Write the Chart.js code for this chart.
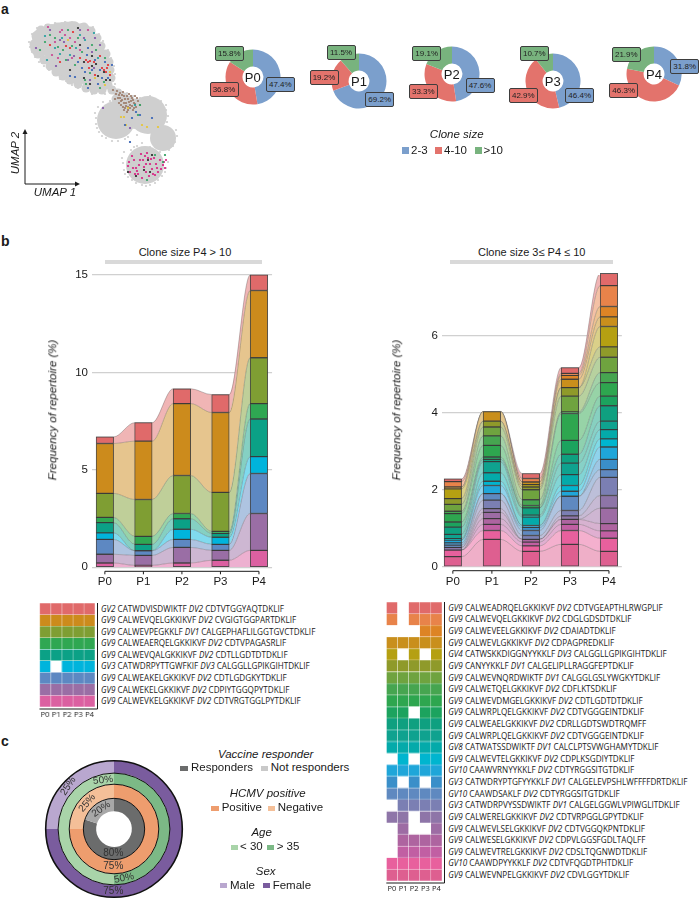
<!DOCTYPE html>
<html>
<head>
<meta charset="utf-8">
<script src="https://cdn.jsdelivr.net/npm/chart.js@4"></script>
<style>
	html, body { margin: 0; padding: 0; background: #fff; }
	#page { position: relative; width: 700px; height: 899px; overflow: hidden; font-family: "Liberation Sans", sans-serif; color: #1a1a1a; }
	#page canvas { position: absolute; }
	.txt { position: absolute; white-space: nowrap; line-height: 1; }
	.seq { position: absolute; white-space: nowrap; line-height: 1; font-family: "Open Sans", sans-serif; font-size: 8.15px; color: #1a1a1a; }
	.tag { position: absolute; box-sizing: border-box; width: 29px; height: 15px; border: 1px solid #3d3d3d; border-radius: 2px; font-size: 8px; line-height: 13px; text-align: center; color: #222; }
	.sw { position: absolute; }
</style>
</head>
<body>
<div id="page"></div>
<script>
// ---- panel a: UMAP (positions)
const umapLobes = [[116,120],[148,115],[145,165]];
const umapSmallLobes = [[163,138]];
const umapCore = [[42,38],[52,34],[62,32],[72,31],[82,33],[40,47],[48,46],[58,44],[68,42],[78,42],[88,42],[55,56],[65,54],[75,52],[85,52],[95,52],[62,66],[72,64],[82,62],[92,62],[100,62],[76,74],[84,74],[94,74],[102,74],[92,80],[100,82]];
const umapEdge = [[34,44],[36,36],[41,30],[48,28],[57,27],[66,26],[75,26],[84,27],[91,31],[97,38],[101,46],[106,54],[109,62],[110,70],[111,78],[108,85],[38,54],[44,60],[50,66],[56,72],[63,76],[70,80],[78,84],[86,88],[94,90],[102,90],[112,90],[118,93],[124,97],[130,100],[136,103],[116,99],[122,104],[128,107]];
const umapFringe = [[30,47],[32,52],[35,57],[39,62],[44,66],[49,70],[54,74],[60,79],[66,81],[72,85],[78,88],[86,91],[92,94],[29,42],[32,34],[37,28],[46,25],[55,23],[65,22],[75,23],[85,24],[93,27],[99,34],[103,41],[108,50],[111,58],[114,66],[115,74],[115,84],[110,92],[105,94],[114,87],[120,90],[127,93],[133,96],[140,101],[96,124],[95,113],[98,107],[103,102],[99,132],[106,138],[118,141],[128,137],[135,120],[166,105],[167,122],[161,101],[150,96],[140,98],[177,136],[176,130],[173,146],[160,152],[150,147],[130,142],[124,152],[123,163],[125,174],[132,180],[142,185],[150,185],[158,180],[165,172],[165,155],[134,147],[96,118],[97,128],[102,136],[112,141],[125,139],[166,110],[168,116],[175,142],[169,150],[122,158],[124,170],[128,177],[136,183],[146,186],[155,183],[162,176],[166,168],[168,162],[110,101],[134,128],[137,135],[131,150],[137,146],[142,143]];
const umapBrown = [[113,90],[116,94],[118,98],[120,93],[122,100],[124,96],[126,103],[128,99],[130,105],[132,98],[134,103],[136,107],[125,108],[121,105],[129,94],[133,110],[127,112],[138,101],[140,105],[119,103],[115,99],[123,92],[131,101],[135,96],[128,107],[124,103],[117,91],[120,98],[122,95],[125,99],[127,96],[129,102],[131,96],[133,100],[135,104],[137,98],[126,106],[123,107],[130,108],[119,95],[128,110],[132,106],[134,108],[121,101],[124,110]];
const umapPink = [[128,166],[130,172],[134,160],[136,168],[138,174],[141,154],[143,160],[144,167],[146,172],[148,158],[150,164],[152,169],[154,158],[156,164],[158,172],[160,160],[163,165],[165,168],[147,153],[139,165],[132,156],[155,175],[149,176],[142,178],[166,160],[129,162],[133,168],[137,171],[140,160],[145,156],[151,159],[153,174],[157,168],[161,169],[164,162],[146,164],[135,174]];
const umapRed = [[86,60],[90,61],[94,62],[50,45],[70,48],[102,68],[106,72],[110,75],[89,68],[108,65],[60,62],[95,75],[73,32],[80,58],[100,56],[104,70],[107,68],[88,62],[66,46]];
const umapGreen = [[45,42],[55,38],[68,30],[78,38],[63,50],[75,65],[85,80],[40,50],[92,45],[105,58],[100,88],[140,105],[138,115],[155,155],[163,162],[86,84],[72,46],[147,180],[165,155],[50,35],[58,47],[66,60],[90,73],[96,50],[104,82],[82,52]];
const umapBlue = [[88,48],[82,68],[95,60],[105,62],[75,77],[85,72],[70,76],[112,65],[100,70],[125,125],[132,118],[140,115],[152,118],[88,88],[130,142],[136,112],[98,84],[92,70],[78,62],[102,78],[87,55],[108,78]];
const umapPurple = [[36,48],[50,30],[60,40],[68,60],[80,30],[92,52],[100,45],[56,66],[95,38],[103,108],[130,128],[90,80],[64,42],[74,56],[84,38],[94,68]];
const umapMagenta = [[48,27],[60,32],[65,35],[75,42],[52,55],[88,30],[58,58],[72,58],[80,50],[62,30],[55,42],[70,38]];
const umapBlack = [[78,28],[84,62],[92,66],[104,72],[98,76],[110,80],[80,45],[70,70],[92,56],[148,160],[144,170],[152,155],[128,172],[90,84],[96,64],[106,80],[84,78],[136,176],[150,172]];
const umapYellow = [[68,40],[110,72],[121,117],[126,125],[142,125],[158,127],[128,108],[95,78],[105,85],[124,117],[147,127]];
const umapTeal = [[45,36],[55,48],[62,38],[70,55],[80,35],[94,33],[47,60],[85,40],[135,105],[76,48],[60,54],[98,58]];
const umapDots = [
	[umapGreen, "#2ca25f"], [umapBlue, "#2f5db5"], [umapPurple, "#7d4ea6"], [umapTeal, "#1b9e9e"],
	[umapMagenta, "#c9408f"], [umapRed, "#e5262b"], [umapYellow, "#e8c52c"], [umapBlack, "#222222"],
	[umapBrown, "#9a7866"], [umapPink, "#d81b7f"],
];

// ---- panel a: clone size shares per patient
const patients = ["P0", "P1", "P2", "P3", "P4"];
const cloneSmall = [47.4, 69.2, 47.6, 46.4, 31.8];
const cloneMid = [36.8, 19.2, 33.3, 42.9, 46.3];
const cloneLarge = [15.8, 11.5, 19.1, 10.7, 21.9];
const donutColors = ["#7b9fcc", "#e3736c", "#78b37e"];

// ---- panel b: clone size P4 > 10 (frequency per patient, top row first)
const leftRed = [0.34, 0.95, 0.76, 0.92, 0.80];
const leftOrange = [2.56, 2.99, 3.69, 4.10, 3.45];
const leftOlive = [1.23, 1.89, 1.95, 2.00, 2.35];
const leftGreen = [0.27, 0.41, 0.27, 0.10, 0.79];
const leftTeal = [0.52, 0.33, 0.54, 0.20, 1.93];
const leftCyan = [0.34, 0, 0.52, 0.36, 0.87];
const leftBlue = [0.76, 0.24, 0.41, 0.31, 2.05];
const leftPurple = [0.45, 0.51, 0.80, 0.51, 1.89];
const leftPink = [0.22, 0.10, 0.22, 0.36, 0.87];
const leftRows = [leftRed, leftOrange, leftOlive, leftGreen, leftTeal, leftCyan, leftBlue, leftPurple, leftPink];
const leftColors = ["#e06a6a", "#cc8b1c", "#7f9e33", "#2fa752", "#0ba186", "#00b4dc", "#5d88c2", "#9a6ea5", "#db60a1"];
const leftSeqs = [
	["GV2", "CATWDVISDWIKTF", "DV2", "CDTVTGGYAQTDKLIF"],
	["GV9", "CALWEVQELGKKIKVF", "DV2", "CVGIGTGGPARTDKLIF"],
	["GV9", "CALWEVPEGKKLF", "DV1", "CALGEPHAFLILGGTGVCTDKLIF"],
	["GV9", "CALWEAERQELGKKIKVF", "DV2", "CDTVPAGASRLIF"],
	["GV9", "CALWEVQALGKKIKVF", "DV2", "CDTLLGDTDTDKLIF"],
	["GV3", "CATWDRPYTTGWFKIF", "DV3", "CALGGLLGPIKGIHTDKLIF"],
	["GV9", "CALWEAKELGKKIKVF", "DV2", "CDTLGDGKYTDKLIF"],
	["GV9", "CALWEKELGKKIKVF", "DV2", "CDPIYTGGQPYTDKLIF"],
	["GV9", "CALWEVKELGKKIKVF", "DV2", "CDTVRGTGGLPYTDKLIF"],
];

// ---- panel b: clone size 3 <= P4 <= 10 (frequency per patient, top row first)
const rightRows = [
	[0.07, 0, 0.13, 0.15, 0.32],
	[0.14, 0, 0.09, 0.05, 0.54],
	[0, 0, 0, 0.10, 0.27],
	[0.05, 0.25, 0.07, 0.22, 0.25],
	[0.25, 0, 0.06, 0, 0.53],
	[0.15, 0.15, 0.07, 0.22, 0.27],
	[0.18, 0.23, 0.26, 0.41, 0.40],
	[0.06, 0.25, 0.15, 0.04, 0.26],
	[0.22, 0.30, 0.06, 0.70, 0.35],
	[0.13, 0.06, 0, 0.36, 0.25],
	[0.19, 0.06, 0.19, 0.23, 0.40],
	[0.11, 0.29, 0.05, 0.30, 0.22],
	[0.04, 0.22, 0.22, 0.28, 0.24],
	[0, 0.11, 0, 0.15, 0.21],
	[0.07, 0.21, 0.05, 0.13, 0.32],
	[0.06, 0, 0.08, 0, 0.27],
	[0.06, 0.17, 0.13, 0.37, 0.20],
	[0, 0.22, 0.10, 0.14, 0.47],
	[0.07, 0.10, 0, 0.09, 0.33],
	[0, 0.16, 0, 0, 0.40],
	[0, 0.15, 0.07, 0.13, 0.19],
	[0, 0.16, 0.10, 0.16, 0.19],
	[0.17, 0.23, 0.14, 0.36, 0.34],
	[0.26, 0.71, 0.40, 0.58, 0.40],
];
const rightColors = ["#e06a6a", "#e8834a", "#dd8425", "#c98f1c", "#b5a012", "#8f9a2a", "#6fa33f", "#46a550", "#2ea64f", "#1ca35e", "#0fa080", "#0fa28f", "#04aaaa", "#00b5cf", "#1fa6d9", "#3a8fc9", "#5f89c0", "#7b7fb3", "#8e75a8", "#9d6ca4", "#ae64a0", "#c15fa3", "#e8609d", "#de5f90"];
const rightSeqs = [
	["GV9", "CALWEADRQELGKKIKVF", "DV2", "CDTVGEAPTHLRWGPLIF"],
	["GV9", "CALWEVQELGKKIKVF", "DV2", "CDGLGDSDTDKLIF"],
	["GV9", "CALWEVEELGKKIKVF", "DV2", "CDAIADTDKLIF"],
	["GV9", "CALWEVLGKKIKVF", "DV2", "CDPAGPREDKLIF"],
	["GV4", "CATWSKKDIGGNYYKKLF", "DV3", "CALGGLLGPIKGIHTDKLIF"],
	["GV9", "CANYYKKLF", "DV1", "CALGELIPLLRAGGFEPTDKLIF"],
	["GV9", "CALWEVNQRDWIKTF", "DV1", "CALGGLGSLYWGKYTDKLIF"],
	["GV9", "CALWETQELGKKIKVF", "DV2", "CDFLKTSDKLIF"],
	["GV9", "CALWEVDMGELGKKIKVF", "DV2", "CDTLGDTDTDKLIF"],
	["GV9", "CALWRPLQELGKKIKVF", "DV2", "CDTVGGGEINTDKLIF"],
	["GV9", "CALWEAELGKKIKVF", "DV2", "CDRLLGDTSWDTRQMFF"],
	["GV9", "CALWRPLQELGKKIKVF", "DV2", "CDTVGGGEINTDKLIF"],
	["GV8", "CATWATSSDWIKTF", "DV1", "CALCLPTSVWGHAMYTDKLIF"],
	["GV9", "CALWEVTELGKKIKVF", "DV2", "CDPLKSGDIYTDKLIF"],
	["GV10", "CAAWVRNYYKKLF", "DV2", "CDTYRGGSITGTDKLIF"],
	["GV3", "CATWDRYPTGFYYKKLF", "DV1", "CALGELEVPSHLWFFFFDRTDKLIF"],
	["GV10", "CAAWDSAKLF", "DV2", "CDTYRGGSITGTDKLIF"],
	["GV3", "CATWDRPVYSSDWIKTF", "DV1", "CALGELGGWLVPIWGLITDKLIF"],
	["GV9", "CALWERELGKKIKVF", "DV2", "CDTVRPGGLGPYTDKLIF"],
	["GV9", "CALWEVLSELGKKIKVF", "DV2", "CDTVGGQKPNTDKLIF"],
	["GV9", "CALWESELGKKIKVF", "DV2", "CDPVLGGSFGDLTAQLFF"],
	["GV9", "CALWEVTRELGKKIKVF", "DV2", "CDSLTQGNWDTDKLIF"],
	["GV10", "CAAWDPYYKKLF", "DV2", "CDTVFQGDTPHTDKLIF"],
	["GV9", "CALWEVNPELGKKIKVF", "DV2", "CDVLGGYTDKLIF"],
];

// ---- panel c: cohort rings
const sexShare = [75, 25];
const ageShare = [50, 50];
const hcmvShare = [75, 25];
const responderShare = [80, 20];

const page = document.getElementById("page");
Chart.defaults.font.family = '"Liberation Sans", sans-serif';
Chart.defaults.color = "#1a1a1a";
Chart.defaults.animation = false;
Chart.defaults.responsive = false;
Chart.defaults.plugins.legend.display = false;
Chart.defaults.plugins.tooltip.enabled = false;

function addCanvas(left, top, width, height) {
	const canvas = document.createElement("canvas");
	canvas.width = width;
	canvas.height = height;
	canvas.style.left = left + "px";
	canvas.style.top = top + "px";
	canvas.style.width = width + "px";
	canvas.style.height = height + "px";
	page.appendChild(canvas);
	return canvas;
}

// centred text by default
function addText(x, y, text, size, opts = {}) {
	const el = document.createElement("div");
	el.className = "txt";
	el.textContent = text;
	el.style.left = x + "px";
	el.style.top = y + "px";
	el.style.fontSize = size + "px";
	if (opts.italic) el.style.fontStyle = "italic";
	if (opts.bold) el.style.fontWeight = "bold";
	if (opts.color) el.style.color = opts.color;
	const ax = opts.start ? "0" : "-50%";
	el.style.transform = `translate(${ax}, -50%) rotate(${opts.rotate || 0}deg)`;
	page.appendChild(el);
	return el;
}

function addSwatch(x, y, w, h, color) {
	const el = document.createElement("div");
	el.className = "sw";
	el.style.cssText = `left:${x}px;top:${y}px;width:${w}px;height:${h}px;background:${color}`;
	page.appendChild(el);
}

// opaque ribbon tint, so gridlines stay behind the ribbons
function tint(hex) {
	const n = parseInt(hex.slice(1), 16);
	const mix = (c) => Math.round(c * 0.5 + 255 * 0.5);
	return `rgb(${mix(n >> 16)},${mix((n >> 8) & 255)},${mix(n & 255)})`;
}

// ---------------- panel a
addText(1, 9, "a", 14, { bold: true, start: true });
addText(1, 241, "b", 14, { bold: true, start: true });
addText(1, 741, "c", 14, { bold: true, start: true });

const toXY = (list) => list.map((p) => ({ x: p[0], y: p[1] }));
const grey = "#cfcfcf";
new Chart(addCanvas(0, 0, 200, 200), {
	type: "scatter",
	data: {
		datasets: [
			{ data: toXY(umapLobes), backgroundColor: grey, pointRadius: 19, borderWidth: 0, order: 5 },
			{ data: toXY(umapSmallLobes), backgroundColor: grey, pointRadius: 13, borderWidth: 0, order: 5 },
			{ data: toXY(umapCore), backgroundColor: grey, pointRadius: 10, borderWidth: 0, order: 5 },
			{ data: toXY(umapEdge), backgroundColor: grey, pointRadius: 4.5, borderWidth: 0, order: 5 },
			{ data: toXY(umapFringe), backgroundColor: grey, pointRadius: 1.1, borderWidth: 0, order: 5 },
		].concat(umapDots.map(([list, color]) => ({ data: toXY(list), backgroundColor: color, pointRadius: 1.1, borderWidth: 0, order: 1 }))),
	},
	options: {
		layout: { autoPadding: false },
		scales: {
			x: { display: false, min: 0, max: 200 },
			y: { display: false, min: 0, max: 200, reverse: true },
		},
	},
	plugins: [{
		id: "umapAxes",
		afterDraw(chart) {
			const { ctx, scales: { x, y } } = chart;
			const ox = x.getPixelForValue(25), oy = y.getPixelForValue(184);
			ctx.save();
			ctx.strokeStyle = ctx.fillStyle = "#1a1a1a";
			ctx.lineWidth = 1;
			ctx.beginPath();
			ctx.moveTo(ox, y.getPixelForValue(132));
			ctx.lineTo(ox, oy);
			ctx.lineTo(x.getPixelForValue(77), oy);
			ctx.stroke();
			ctx.beginPath();
			ctx.moveTo(ox, y.getPixelForValue(129));
			ctx.lineTo(ox - 2.5, y.getPixelForValue(134));
			ctx.lineTo(ox + 2.5, y.getPixelForValue(134));
			ctx.fill();
			ctx.beginPath();
			ctx.moveTo(x.getPixelForValue(80), oy);
			ctx.lineTo(x.getPixelForValue(75), oy - 2.5);
			ctx.lineTo(x.getPixelForValue(75), oy + 2.5);
			ctx.fill();
			ctx.restore();
		},
	}],
});
addText(55, 192.5, "UMAP 1", 11.5, { italic: true });
addText(16, 153, "UMAP 2", 11.5, { italic: true, rotate: -90 });

// donut centre and the three tag centres, for P0..P4
const donutSpots = [
	{ c: [252.7, 76.7], blue: [280.3, 84], red: [224, 89.3], green: [229.3, 53.3] },
	{ c: [359, 80.7], blue: [379.7, 99], red: [324, 77.7], green: [341, 52.7] },
	{ c: [451.7, 74], blue: [480, 85.7], red: [423.3, 91], green: [426.7, 53.7] },
	{ c: [552.7, 80.7], blue: [579.7, 95], red: [523.3, 95], green: [534.3, 53.3] },
	{ c: [654, 74], blue: [684.7, 66.7], red: [623.7, 90.3], green: [626.3, 54.7] },
];

function addTag(spot, value, color) {
	const el = document.createElement("div");
	el.className = "tag";
	el.textContent = value.toFixed(1) + "%";
	el.style.left = spot[0] - 14.5 + "px";
	el.style.top = spot[1] - 7.5 + "px";
	el.style.background = color;
	page.appendChild(el);
}

patients.forEach((name, i) => {
	const spot = donutSpots[i];
	new Chart(addCanvas(spot.c[0] - 29, spot.c[1] - 29, 58, 58), {
		type: "doughnut",
		data: {
			labels: ["2-3", "4-10", ">10"],
			datasets: [{ data: [cloneSmall[i], cloneMid[i], cloneLarge[i]], backgroundColor: donutColors, borderWidth: 0 }],
		},
		options: { radius: 27.5, cutout: 11, layout: { autoPadding: false } },
	});
	addText(spot.c[0], spot.c[1], name, 13);
	addTag(spot.blue, cloneSmall[i], donutColors[0]);
	addTag(spot.red, cloneMid[i], donutColors[1]);
	addTag(spot.green, cloneLarge[i], donutColors[2]);
});

addText(456.7, 134.7, "Clone size", 11.5, { italic: true });
[["2-3", 402, 411], ["4-10", 435, 444], [">10", 475, 483.5]].forEach(([label, sx, tx], i) => {
	addSwatch(sx, 147, 6.5, 6.5, donutColors[i]);
	addText(tx, 150.5, label, 11.5, { start: true });
});

// ---------------- panel b
const colHalf = 0.227; // half column width, in patient units

const lowerAxis = {
	id: "lowerAxis",
	afterDraw(chart) {
		const { ctx, scales: { x }, chartArea } = chart;
		const y = chartArea.bottom + 4;
		ctx.save();
		ctx.strokeStyle = "#1a1a1a";
		ctx.lineWidth = 1;
		ctx.beginPath();
		ctx.moveTo(x.getPixelForValue(0), y);
		ctx.lineTo(x.getPixelForValue(4), y);
		patients.forEach((p, i) => {
			ctx.moveTo(x.getPixelForValue(i), y);
			ctx.lineTo(x.getPixelForValue(i), y + 3);
		});
		ctx.stroke();
		ctx.restore();
	},
};

// one ribbon line per row edge plus a floating column per row, bottom row first
function alluvialDatasets(rows, colors) {
	const lines = [], bars = [];
	const base = patients.map(() => 0);
	for (let r = rows.length - 1; r >= 0; r--) {
		const low = base.slice();
		rows[r].forEach((v, i) => { base[i] += v; });
		const top = base.slice();
		lines.push({
			type: "line",
			data: top.flatMap((v, i) => [{ x: i - colHalf, y: v }, { x: i + colHalf, y: v }]),
			cubicInterpolationMode: "monotone",
			borderColor: "rgba(70,70,70,0.45)",
			borderWidth: 0.7,
			backgroundColor: tint(colors[r]),
			fill: lines.length ? "-1" : "origin",
			pointRadius: 0,
			order: 2,
		});
		bars.push({
			type: "bar",
			data: top.map((v, i) => ({ x: i, y: [low[i], v] })).filter((d) => d.y[1] > d.y[0]),
			backgroundColor: colors[r],
			borderColor: "rgba(45,45,45,0.8)",
			borderWidth: 1,
			borderSkipped: false,
			barThickness: 17.5,
			grouped: false,
			clip: false,
			order: 1,
		});
	}
	return lines.concat(bars);
}

function alluvialChart(rows, colors, box, xMin, xMax, yMax, step) {
	return new Chart(addCanvas(box.left, box.top, box.width, box.height), {
		type: "bar",
		data: { datasets: alluvialDatasets(rows, colors) },
		options: {
			layout: { autoPadding: false },
			scales: {
				x: {
					type: "linear",
					offset: false,
					min: xMin,
					max: xMax,
					afterFit(scale) { scale.height = box.bottomGap; },
					grid: { display: false, drawTicks: false },
					border: { display: false },
					ticks: {
						stepSize: 1,
						includeBounds: false,
						padding: 8,
						maxRotation: 0,
						font: { size: 11.5 },
						callback: (v) => patients[v],
					},
				},
				y: {
					min: 0,
					max: yMax,
					afterFit(scale) { scale.width = 50; },
					grid: { color: "#d0d0d0", lineWidth: 1.3, drawTicks: false },
					border: { display: false },
					ticks: { stepSize: step, includeBounds: false, padding: 4, font: { size: 11.5 } },
				},
			},
		},
		plugins: [lowerAxis],
	});
}

alluvialChart(leftRows, leftColors, { left: 42, top: 264, width: 232, height: 328, bottomGap: 24.7 }, -0.334, 4.34, 15, 5);
alluvialChart(rightRows, rightColors, { left: 392, top: 264, width: 232, height: 328, bottomGap: 25.3 }, -0.278, 4.33, 7.58, 2);

addText(185, 252.3, "Clone size P4 > 10", 11);
addSwatch(105, 260, 157, 4, "#d9d9d9");
addText(531.7, 252, "Clone size 3\u2264 P4 \u2264 10", 11);
addSwatch(450, 259.5, 163, 4, "#d9d9d9");
addText(52.6, 410, "Frequency of repertoire (%)", 11.5, { italic: true, rotate: -90 });
addText(396.7, 410, "Frequency of repertoire (%)", 11.5, { italic: true, rotate: -90 });

// presence cells: a cell exists where the row has a frequency for that patient
function heatmap(rows, colors, box) {
	new Chart(addCanvas(box.left, box.top, box.width + 5, box.height + 18), {
		type: "bar",
		data: {
			labels: patients,
			datasets: rows.map((row, r) => ({
				data: row.map((v) => (v > 0 ? [r, r + 1] : null)),
				backgroundColor: colors[r],
				borderColor: "rgba(255,255,255,0.12)",
				borderWidth: 0.5,
				borderSkipped: false,
				grouped: false,
				barPercentage: 1,
				categoryPercentage: 1,
			})),
		},
		options: {
			layout: { autoPadding: false, padding: { right: 5 } },
			scales: {
				x: {
					afterFit(scale) { scale.height = 18; },
					grid: { display: false, drawTicks: false },
					border: { display: false },
					ticks: { padding: 3.5, autoSkip: false, maxRotation: 0, font: { family: '"Open Sans", sans-serif', size: 7.5 }, color: "#222" },
				},
				y: { display: false, min: 0, max: rows.length, reverse: true },
			},
		},
		plugins: [{
			id: "heatFrame",
			afterDraw(chart) {
				const { ctx, chartArea: a } = chart;
				ctx.save();
				ctx.strokeStyle = "#1a1a1a";
				ctx.lineWidth = 1;
				ctx.beginPath();
				ctx.moveTo(a.right + 2.5, a.top);
				ctx.lineTo(a.right + 2.5, a.bottom + 2);
				ctx.lineTo(a.left, a.bottom + 2);
				ctx.stroke();
				ctx.restore();
			},
		}],
	});
}

function seqList(seqs, x, y, step) {
	seqs.forEach((s, i) => {
		const el = document.createElement("div");
		el.className = "seq";
		el.style.left = x + "px";
		el.style.top = y + i * step - 4 + "px";
		el.innerHTML = `<i>${s[0]}</i> ${s[1]} <i>${s[2]}</i> ${s[3]}`;
		page.appendChild(el);
	});
}

heatmap(leftRows, leftColors, { left: 37.3, top: 603.3, width: 57.7, height: 104 });
heatmap(rightRows, rightColors, { left: 384.3, top: 602.3, width: 58, height: 278.7 });
seqList(leftSeqs, 101, 608.5, 11.58);
seqList(rightSeqs, 448.3, 607.8, 11.62);

// ---------------- panel c
new Chart(addCanvas(44, 759, 140, 140), {
	type: "doughnut",
	data: {
		datasets: [
			{ data: sexShare, backgroundColor: ["#7a5c9e", "#b9a7cf"], weight: 12.3, borderWidth: 0 },
			{ data: ageShare, backgroundColor: ["#7cb986", "#a9d4a9"], weight: 11, borderWidth: 0 },
			{ data: hcmvShare, backgroundColor: ["#ee9d6e", "#f4bf98"], weight: 14, borderWidth: 0 },
			{ data: responderShare, backgroundColor: ["#6b6c6c", "#a8a8a8"], weight: 12.7, borderWidth: 0 },
		],
	},
	options: { radius: 68.3, cutout: 18.3, layout: { autoPadding: false } },
	plugins: [{
		id: "ringEdges",
		afterDraw(chart) {
			const { ctx } = chart;
			ctx.save();
			ctx.strokeStyle = "#111";
			chart.data.datasets.forEach((d, i) => {
				const arc = chart.getDatasetMeta(i).data[0];
				ctx.lineWidth = i === 0 ? 1.6 : 1;
				ctx.beginPath();
				ctx.arc(arc.x, arc.y, arc.outerRadius, 0, Math.PI * 2);
				ctx.stroke();
			});
			ctx.restore();
		},
	}],
});

[
	[68.3, 786, "25%", -58], [103.3, 780, "50%", -6], [86.7, 802.7, "25%", -50], [100.7, 809, "20%", -35],
	[113.3, 853.3, "80%", 0], [113.3, 865.7, "75%", 0], [124, 877.7, "50%", -12], [113.3, 890.7, "75%", 0],
].forEach(([x, y, t, rot]) => addText(x, y, t, 10, { rotate: rot, color: "#333" }));

addText(265.7, 755, "Vaccine responder", 11.5, { italic: true });
addSwatch(180, 766, 8, 5, "#6b6c6c");
addText(191, 768.3, "Responders", 11.5, { start: true });
addSwatch(260.7, 766, 7.5, 5, "#c9c9c9");
addText(270.7, 768.3, "Not responders", 11.5, { start: true });
addText(267.7, 794.3, "HCMV positive", 11.5, { italic: true });
addSwatch(211, 806, 7.5, 5, "#ee9d6e");
addText(221.7, 808.3, "Positive", 11.5, { start: true });
addSwatch(267.7, 806, 7.5, 5, "#f4bf98");
addText(277.7, 808.3, "Negative", 11.5, { start: true });
addText(261.7, 833.3, "Age", 11.5, { italic: true });
addSwatch(230.7, 844.7, 7, 5, "#a9d4a9");
addText(240, 847, "< 30", 11.5, { start: true });
addSwatch(267.3, 844.7, 7, 5, "#7cb986");
addText(276.7, 847, "> 35", 11.5, { start: true });
addText(265.7, 871.7, "Sex", 11.5, { italic: true });
addSwatch(220, 883.3, 7, 5, "#b9a7cf");
addText(230, 885.7, "Male", 11.5, { start: true });
addSwatch(262.7, 883.3, 7.5, 5, "#7a5c9e");
addText(272.7, 885.7, "Female", 11.5, { start: true });
</script>
</body>
</html>
